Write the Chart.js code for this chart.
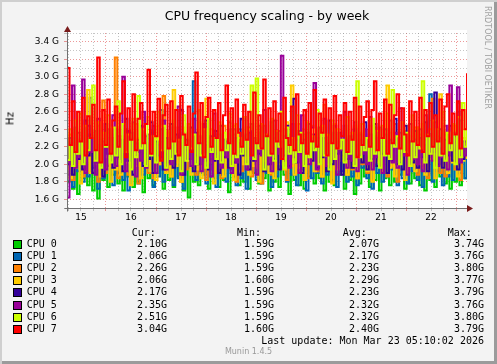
<!DOCTYPE html>
<html>
<head>
<meta charset="utf-8">
<script src="https://cdn.jsdelivr.net/npm/chart.js@4/dist/chart.umd.min.js"></script>
<style>
  body { margin: 0; background: #f3f3f3; }
  #frame {
    position: relative; width: 497px; height: 364px; overflow: hidden;
    background: #f3f3f3;
    box-shadow: inset 2px 2px 0 #cfcfcf, inset -3px -3px 0 #9b9b9b;
  }
  #c { position: absolute; left: 0; top: 0; }
  .t { position: absolute; white-space: pre; line-height: 12px; color: #000; }
  .mono { font: 10px "DejaVu Sans Mono", monospace; }
  .r { text-align: right; }
  .box { position: absolute; width: 7px; height: 7px; border: 1px solid #000; }
</style>
</head>
<body>
<div id="frame">
  <canvas id="c" width="497" height="364"></canvas>
  <div class="t" style="left:0;width:534px;top:8px;text-align:center;font:12.5px 'DejaVu Sans';">CPU frequency scaling - by week</div>
  <div class="t" style="left:-10px;top:113px;width:40px;text-align:center;font:10px 'DejaVu Sans';transform:rotate(-90deg);">Hz</div>
  <div class="t" style="left:437px;top:51px;width:100px;text-align:center;font:8px 'DejaVu Sans';color:#a0a0a0;transform:rotate(90deg);line-height:10px;">RRDTOOL / TOBI OETIKER</div>
  <div id="legend"></div>
  <div class="t" style="left:0;width:497px;top:347px;text-align:center;font:8px 'DejaVu Sans';color:#999;line-height:10px;">Munin 1.4.5</div>
</div>
<script>
// sample times in day-of-month (Mar 15 05:17 .. Mar 23 05:17), one every ~72 min
const startDay = 15.22;
const endDay = 23.22;
const nSamples = 160;
const times = Array.from({length: nSamples}, (_, i) => startDay + i * (endDay - startDay) / (nSamples - 1));

const cpuNames = ['CPU 0', 'CPU 1', 'CPU 2', 'CPU 3', 'CPU 4', 'CPU 5', 'CPU 6', 'CPU 7'];
const cpuColors = ['#00cc00', '#0066b3', '#ff8000', '#ffcc00', '#330099', '#990099', '#ccff00', '#ff0000'];

// GHz
const cpu0 = [1.80,2.14,1.72,2.24,1.66,2.08,1.84,2.20,1.76,2.12,1.70,2.26,1.61,2.10,1.82,2.18,1.74,2.22,1.88,2.06,
              1.78,2.20,1.70,2.14,1.86,2.28,1.74,2.10,1.80,2.24,1.68,2.16,1.84,2.22,1.76,2.08,1.90,2.26,1.72,2.12,
              1.82,2.20,1.74,2.16,1.86,2.24,1.70,2.10,1.62,2.18,1.80,2.28,1.76,2.12,1.88,2.22,1.72,2.06,1.84,2.20,
              1.74,2.14,1.82,2.26,1.68,2.10,1.86,2.22,1.76,2.16,1.80,2.24,1.72,2.08,1.90,2.20,1.78,2.12,1.84,2.28,
              1.70,2.16,1.80,2.22,1.74,2.10,1.88,2.24,1.66,2.14,1.82,2.20,1.76,2.26,1.72,2.08,1.86,2.18,1.78,2.22,
              1.84,2.12,1.70,2.24,1.80,2.16,1.76,2.20,1.88,2.10,1.72,2.28,1.82,2.14,1.66,2.22,1.78,2.18,1.86,2.08,
              1.74,2.24,1.82,2.12,1.70,2.20,1.84,2.16,1.76,2.26,1.80,2.10,1.88,2.22,1.72,2.14,1.78,2.20,1.84,2.06,
              1.76,2.22,1.70,2.16,1.82,2.26,1.74,2.12,1.86,2.20,1.78,2.14,1.72,2.24,1.80,2.10,1.76,2.18,1.84,2.10];
const cpu1 = [1.88,2.24,1.74,2.30,1.92,2.16,1.80,2.32,1.86,2.76,1.96,2.20,1.72,2.28,1.84,2.18,1.98,2.34,1.76,2.22,
              1.90,2.26,1.82,2.14,1.70,2.30,1.94,2.20,1.78,2.32,1.88,2.12,1.98,2.36,1.74,2.24,1.86,2.62,1.80,2.18,
              1.92,2.28,1.76,2.22,1.84,2.34,1.72,2.16,1.96,2.26,2.95,1.82,2.30,1.90,2.18,1.78,2.24,1.86,2.32,1.74,
              2.20,1.88,2.28,1.80,2.14,1.94,2.34,1.76,2.22,1.84,2.30,1.72,2.18,1.92,2.26,1.82,2.36,1.78,2.16,1.90,
              2.24,1.74,2.30,1.86,2.20,1.96,2.32,1.80,2.14,1.88,2.28,1.76,2.22,1.94,2.34,1.70,2.18,1.84,2.26,1.90,
              2.16,1.78,2.30,1.88,2.24,1.82,2.36,1.74,2.20,1.92,2.28,1.80,2.14,1.86,2.32,1.76,2.22,1.96,2.26,1.84,
              2.18,1.72,2.30,1.90,2.24,1.80,2.34,1.86,2.16,1.94,2.28,1.76,2.20,1.84,2.32,1.78,2.26,1.92,2.14,1.82,
              2.30,1.74,2.22,1.88,2.80,1.80,2.28,1.92,2.18,1.76,2.34,1.86,2.24,1.82,2.26,2.60,1.90,2.20,1.84,2.06];
const cpu2 = [1.95,2.34,1.82,2.40,2.00,2.28,1.86,2.44,1.92,2.30,2.04,2.38,1.80,2.26,2.73,1.90,2.36,1.98,2.42,3.22,
              1.84,2.32,2.02,2.40,1.88,2.28,1.96,2.46,1.78,2.34,2.06,2.24,1.90,2.38,1.84,2.30,2.00,2.44,2.78,1.92,
              2.36,1.86,2.28,2.02,2.42,1.80,2.34,1.94,2.26,2.06,2.40,1.88,2.32,1.98,2.46,1.82,2.30,2.04,2.38,1.90,
              2.28,1.84,2.44,1.96,2.34,2.00,2.26,1.80,2.40,1.92,2.32,2.08,2.42,1.86,2.30,1.96,2.36,1.78,2.44,2.02,
              2.30,1.88,2.38,1.94,2.26,2.04,2.40,1.82,2.34,1.98,2.28,1.90,2.46,2.00,2.32,1.84,2.36,2.06,2.26,1.92,
              2.40,1.86,2.68,2.02,2.34,1.80,2.44,1.96,2.28,2.08,2.38,1.88,2.30,1.94,2.42,1.84,2.36,2.00,2.26,1.90,
              2.44,1.82,2.32,2.04,2.40,1.92,2.28,1.86,2.36,1.98,2.46,1.80,2.30,2.06,2.38,1.90,2.26,2.02,2.42,1.88,
              2.34,1.96,2.28,1.84,2.40,2.75,2.00,2.32,1.90,2.38,1.86,2.26,2.04,2.44,1.94,2.70,1.82,2.30,2.08,2.26];
const cpu3 = [2.20,1.84,2.36,1.96,2.28,1.78,2.40,2.04,2.85,1.90,2.32,2.00,2.44,1.86,2.24,2.08,2.38,1.80,2.30,1.94,
              2.42,1.88,2.26,2.02,2.36,1.76,2.46,1.98,2.30,1.84,2.40,2.06,2.22,1.92,2.34,1.82,2.44,2.00,2.28,1.90,
              2.38,1.86,2.85,1.98,2.32,1.80,2.42,2.04,2.26,1.88,2.36,1.94,2.48,1.84,2.30,2.75,2.02,2.40,1.78,2.34,
              1.96,2.44,1.86,2.28,2.06,2.38,1.82,2.46,1.92,2.30,2.00,2.42,1.88,2.34,1.98,2.26,1.80,2.40,2.04,2.32,
              1.90,2.44,1.84,2.36,2.00,2.28,1.94,2.48,2.06,2.90,1.88,2.34,1.96,2.40,1.82,2.30,2.02,2.44,1.92,2.26,
              2.36,1.86,2.42,2.00,2.30,1.78,2.46,1.94,2.34,2.04,2.40,1.88,2.28,1.98,2.44,1.84,2.32,2.06,2.38,1.92,
              2.26,1.80,2.42,2.02,2.34,1.90,2.28,2.90,1.96,2.40,1.86,2.36,2.04,2.30,1.82,2.44,1.98,2.32,1.92,2.38,
              2.00,2.46,1.88,2.34,2.06,2.28,1.84,2.42,2.80,1.96,2.36,1.90,2.30,2.02,2.44,1.86,2.26,2.04,2.40,2.06];
const cpu4 = [2.00,2.30,1.88,2.42,2.06,2.26,1.94,2.50,2.10,2.34,1.90,2.38,2.02,2.22,1.86,2.46,2.12,2.30,1.96,2.40,
              2.08,2.28,1.92,2.52,2.04,2.36,1.88,2.24,2.14,2.44,1.98,2.32,2.06,2.48,1.90,2.26,2.10,2.40,1.94,2.30,
              2.02,2.46,1.96,2.34,2.12,2.62,1.88,2.28,2.06,2.42,1.92,2.36,2.00,2.24,2.14,2.50,1.94,2.32,2.04,2.38,
              1.90,2.44,2.08,2.26,1.96,2.40,2.02,2.30,1.88,2.52,2.10,2.34,1.94,2.46,2.04,2.28,2.12,2.42,1.92,2.32,
              2.00,2.48,2.06,2.36,1.94,2.26,2.10,2.44,1.98,2.30,2.75,2.02,2.38,1.90,2.28,2.14,2.46,2.04,2.34,1.96,
              2.42,2.08,2.30,1.92,2.50,2.00,2.36,2.12,2.26,1.88,2.44,2.06,2.32,1.96,2.40,2.10,2.28,2.02,2.48,1.94,
              2.34,2.06,2.46,1.98,2.30,2.12,2.40,1.90,2.28,2.04,2.52,2.00,2.36,1.94,2.44,2.10,2.26,2.02,2.38,1.96,
              2.30,2.08,2.48,1.92,2.34,2.14,2.82,2.00,2.40,1.96,2.28,2.10,2.44,2.04,2.32,1.94,2.50,2.06,2.26,2.17];
const cpu5 = [1.62,2.20,2.90,1.96,2.36,2.08,2.97,1.90,2.44,2.14,2.30,1.88,2.52,2.02,2.26,1.94,2.40,2.10,2.56,1.98,
              2.32,2.06,3.00,1.92,2.38,2.16,2.48,1.86,2.28,2.04,2.60,1.96,2.34,2.12,2.44,1.90,2.22,2.08,2.50,1.94,
              2.30,2.00,2.42,2.14,2.66,1.88,2.36,2.06,2.26,1.98,2.52,2.10,2.32,1.92,2.46,2.04,2.20,1.86,2.58,2.12,
              2.34,1.96,2.28,2.08,2.48,1.90,2.40,2.02,2.24,2.14,2.54,1.94,2.36,2.06,2.30,1.88,2.44,2.10,2.62,2.00,
              2.26,1.92,2.50,2.12,2.38,3.24,2.04,2.32,1.96,2.46,2.08,2.28,1.90,2.56,2.14,2.36,2.00,2.42,2.93,1.94,
              2.30,2.10,2.52,1.98,2.24,2.06,2.44,1.88,2.36,2.16,2.60,1.96,2.28,2.04,2.48,1.92,2.34,2.12,2.40,2.00,
              2.54,1.94,2.30,2.08,2.42,1.90,2.26,2.14,2.50,2.02,2.36,1.96,2.64,2.10,2.32,1.88,2.46,2.06,2.28,2.00,
              2.40,1.92,2.56,2.12,2.34,2.04,2.48,1.98,2.30,2.08,2.44,1.94,2.90,2.16,2.36,2.88,2.02,2.26,2.10,2.35];
const cpu6 = [2.05,2.40,1.98,2.50,2.12,2.58,2.00,2.44,2.16,2.30,2.90,2.04,2.48,1.96,2.36,2.20,2.56,2.02,2.42,2.10,
              2.72,2.00,2.46,2.14,2.34,1.94,2.52,2.08,2.78,2.18,2.40,1.98,2.54,2.10,2.32,2.02,2.60,2.16,2.44,1.96,
              2.38,2.06,2.50,2.12,2.28,1.92,2.56,2.04,2.46,2.18,2.34,2.00,2.62,2.10,2.40,1.96,2.52,2.14,2.30,2.06,
              2.48,2.02,2.36,2.16,2.58,1.98,2.44,2.08,2.30,2.12,2.54,2.00,2.40,2.90,2.06,2.98,2.18,2.46,1.94,2.34,
              2.10,2.52,2.04,2.38,2.20,2.60,1.96,2.42,2.12,2.30,2.02,2.56,2.14,2.36,1.98,2.48,2.08,2.32,2.16,2.62,
              2.00,2.44,2.10,2.34,1.94,2.50,2.06,2.40,2.18,2.28,2.02,2.54,2.12,2.36,1.98,2.95,2.08,2.46,2.16,2.30,
              2.04,2.52,2.12,2.38,1.96,2.44,2.10,2.58,2.06,2.85,2.20,2.32,2.00,2.48,2.14,2.36,1.98,2.56,2.08,2.42,
              2.18,2.95,2.02,2.34,2.12,2.50,1.96,2.40,2.10,2.60,2.04,2.36,2.16,2.46,2.00,2.54,2.08,2.70,2.20,2.51];
const cpu7 = [3.10,2.22,2.72,2.14,2.60,2.26,2.76,2.10,2.55,2.30,2.68,2.16,3.22,2.02,2.62,2.22,2.74,2.12,2.50,2.66,
              2.20,2.58,2.95,2.08,2.64,2.28,2.80,2.16,2.52,2.70,2.24,2.46,3.08,2.12,2.60,2.32,2.75,2.04,2.56,2.68,
              2.18,2.72,2.26,2.62,2.10,2.78,2.34,2.22,2.66,2.14,2.58,3.05,2.24,2.70,2.08,2.54,2.76,2.20,2.62,2.30,
              2.70,2.16,2.56,2.90,2.24,2.64,2.12,2.74,2.36,2.20,2.68,2.28,2.60,2.10,2.82,2.24,2.56,2.18,2.97,2.32,
              2.64,2.12,2.72,2.26,2.58,2.06,2.76,2.30,2.22,2.66,2.16,2.80,2.34,2.24,2.62,2.12,2.70,2.26,2.85,2.20,
              2.58,2.36,2.74,2.10,2.64,2.24,2.78,2.18,2.56,2.32,2.70,2.14,2.60,2.28,2.76,2.08,2.66,2.22,2.54,2.72,
              2.20,2.62,2.95,2.16,2.58,2.30,2.74,2.12,2.68,2.24,2.56,2.80,2.18,2.64,2.34,2.10,2.72,2.26,2.60,2.22,
              2.76,2.14,2.62,2.32,2.70,2.20,2.56,2.26,2.74,2.12,2.66,2.80,2.24,2.58,2.34,2.72,2.18,2.62,2.40,3.04];
const series = [cpu0, cpu1, cpu2, cpu3, cpu4, cpu5, cpu6, cpu7];

// legend stats
const curVals = ['2.10G', '2.06G', '2.26G', '2.06G', '2.17G', '2.35G', '2.51G', '3.04G'];
const minVals = ['1.59G', '1.59G', '1.59G', '1.60G', '1.59G', '1.59G', '1.59G', '1.60G'];
const avgVals = ['2.07G', '2.17G', '2.23G', '2.29G', '2.23G', '2.32G', '2.32G', '2.40G'];
const maxVals = ['3.74G', '3.76G', '3.80G', '3.77G', '3.79G', '3.76G', '3.80G', '3.79G'];
const lastUpdate = 'Last update: Mon Mar 23 05:10:02 2026';

// ticks
const dayLabels = ['15', '16', '17', '18', '19', '20', '21', '22'];
const yTickValues = [1.6, 1.8, 2.0, 2.2, 2.4, 2.6, 2.8, 3.0, 3.2, 3.4];
const yTickLabels = ['1.6 G', '1.8 G', '2.0 G', '2.2 G', '2.4 G', '2.6 G', '2.8 G', '3.0 G', '3.2 G', '3.4 G'];

const MGRID = 'rgba(220, 70, 70, 0.55)';
const GRID = 'rgba(128, 128, 128, 0.45)';

// legend block
const legend = document.getElementById('legend');
let html = '';
const rowY = (i) => 244 + 12.1 * i;
html += '<div class="t mono" style="left:131.7px;top:227px">Cur:</div>';
html += '<div class="t mono" style="left:237px;top:227px">Min:</div>';
html += '<div class="t mono" style="left:342.7px;top:227px">Avg:</div>';
html += '<div class="t mono" style="left:447.7px;top:227px">Max:</div>';
cpuNames.forEach((name, i) => {
  const y = rowY(i);
  html += `<div class="box" style="left:13px;top:${y - 4}px;background:${cpuColors[i]}"></div>`;
  html += `<div class="t mono" style="left:26.7px;top:${y - 6}px">${name}</div>`;
  html += `<div class="t mono r" style="left:67px;width:100px;top:${y - 6}px">${curVals[i]}</div>`;
  html += `<div class="t mono r" style="left:174px;width:100px;top:${y - 6}px">${minVals[i]}</div>`;
  html += `<div class="t mono r" style="left:279px;width:100px;top:${y - 6}px">${avgVals[i]}</div>`;
  html += `<div class="t mono r" style="left:384px;width:100px;top:${y - 6}px">${maxVals[i]}</div>`;
});
html += `<div class="t mono r" style="left:184px;width:300px;top:${rowY(8) - 6}px">${lastUpdate}</div>`;
legend.innerHTML = html;

// white canvas behind the plot, axes with arrows on top
const rrdFrame = {
  id: 'rrdFrame',
  beforeDraw(chart) {
    const {ctx, chartArea: a} = chart;
    ctx.save();
    ctx.fillStyle = '#ffffff';
    ctx.fillRect(a.left, a.top - 3, a.right - a.left, a.bottom - a.top + 3);
    ctx.restore();
  },
  afterDatasetsDraw(chart) {
    const {ctx, chartArea: a} = chart;
    const x0 = Math.round(a.left) + 0.5;
    const y0 = Math.round(a.bottom) + 0.5;
    ctx.save();
    ctx.strokeStyle = '#707070';
    ctx.lineWidth = 1;
    ctx.beginPath();
    ctx.moveTo(x0, y0 + 3);
    ctx.lineTo(x0, a.top - 4);
    ctx.moveTo(x0 - 3, y0);
    ctx.lineTo(a.right + 4, y0);
    ctx.stroke();
    ctx.fillStyle = '#7a1c1c';
    ctx.beginPath();
    ctx.moveTo(x0, a.top - 7);
    ctx.lineTo(x0 - 3.5, a.top - 1);
    ctx.lineTo(x0 + 3.5, a.top - 1);
    ctx.closePath();
    ctx.fill();
    ctx.beginPath();
    ctx.moveTo(a.right + 6, y0);
    ctx.lineTo(a.right, y0 - 3.5);
    ctx.lineTo(a.right, y0 + 3.5);
    ctx.closePath();
    ctx.fill();
    ctx.restore();
  }
};

const datasets = series.map((vals, i) => ({
  label: cpuNames[i],
  data: vals.map((v, j) => ({x: times[j], y: v})),
  borderColor: cpuColors[i],
  backgroundColor: cpuColors[i],
  borderWidth: 2,
  stepped: true,
  pointRadius: 0,
  fill: false,
  order: 7 - i
}));

const ctx = document.getElementById('c').getContext('2d');
new Chart(ctx, {
  type: 'line',
  data: {datasets},
  options: {
    responsive: false,
    animation: false,
    devicePixelRatio: 1,
    parsing: false,
    layout: {padding: {left: 0, top: 33, right: 30, bottom: 136}},
    plugins: {legend: {display: false}, tooltip: {enabled: false}},
    scales: {
      x: {
        type: 'linear',
        min: startDay,
        max: endDay,
        afterFit: (s) => { s.height = 20; },
        afterBuildTicks: (s) => {
          const t = [];
          for (let q = 61; q <= 92; q++) t.push({value: q / 4});
          s.ticks = t;
        },
        ticks: {
          autoSkip: false,
          maxRotation: 0,
          padding: 1,
          color: '#000',
          font: {family: 'DejaVu Sans', size: 9},
          callback: (v) => {
            const d = Math.floor(v);
            return Math.abs(v - d - 0.5) < 1e-6 ? dayLabels[d - 15] : '';
          }
        },
        grid: {
          color: (c) => Math.abs(c.tick.value - Math.round(c.tick.value)) < 1e-6 ? MGRID : GRID,
          tickLength: 3
        },
        border: {display: false, dash: [1, 2]}
      },
      y: {
        type: 'linear',
        min: 1.5,
        max: 3.5,
        afterFit: (s) => { s.width = 67; },
        afterBuildTicks: (s) => {
          const t = [];
          for (let k = 15; k <= 35; k++) t.push({value: k / 10});
          s.ticks = t;
        },
        ticks: {
          autoSkip: false,
          padding: 5,
          color: '#000',
          font: {family: 'DejaVu Sans', size: 9},
          callback: (v) => {
            const idx = yTickValues.findIndex((y) => Math.abs(y - v) < 1e-6);
            return idx >= 0 ? yTickLabels[idx] : '';
          }
        },
        grid: {
          color: (c) => Math.round(c.tick.value * 10) % 2 === 0 ? MGRID : GRID,
          tickLength: 3
        },
        border: {display: false, dash: [1, 2]}
      }
    }
  },
  plugins: [rrdFrame]
});
</script>
</body>
</html>
